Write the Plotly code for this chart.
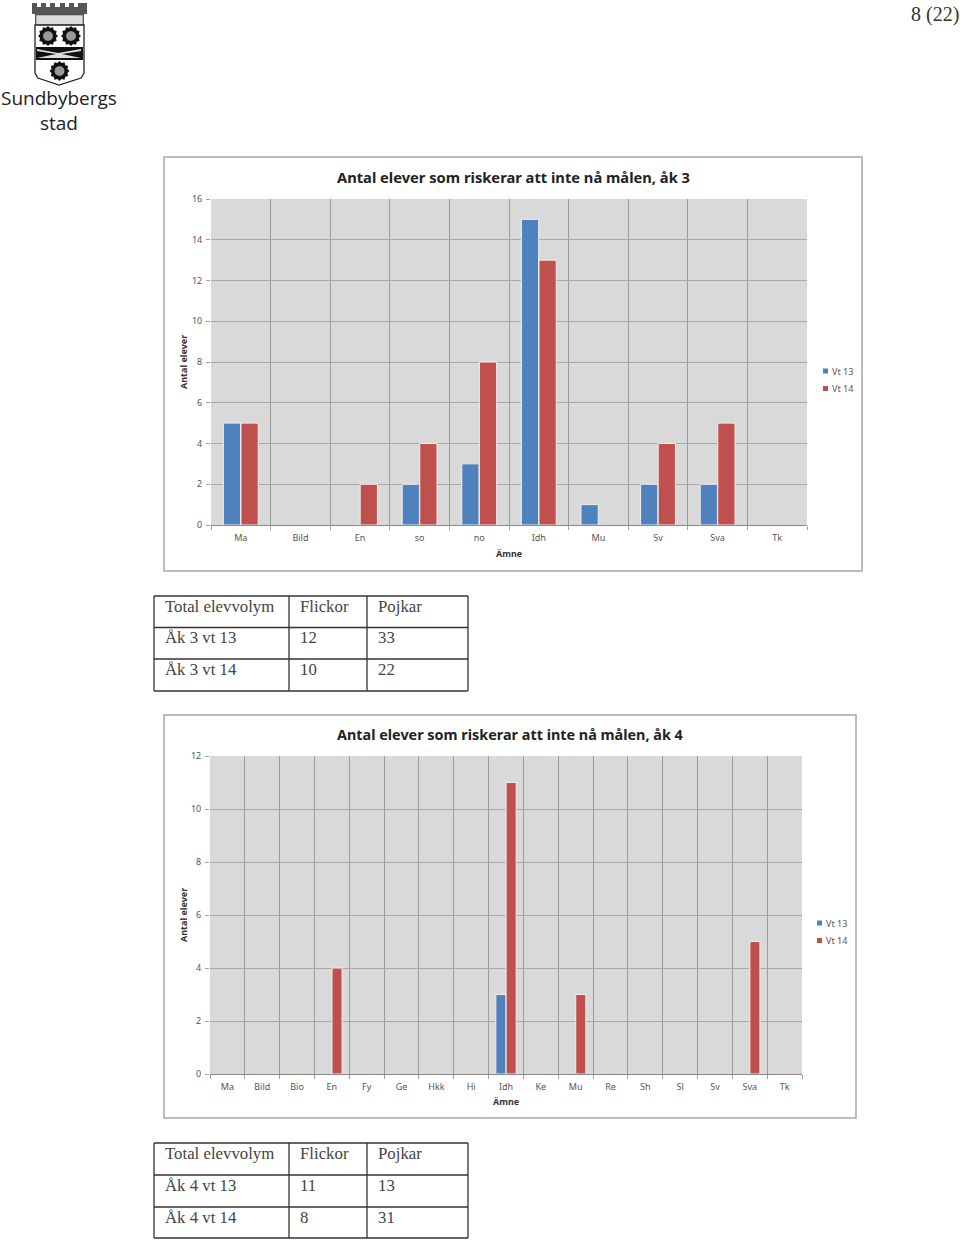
import math
import plotly.graph_objects as go

W, H = 960, 1240
cats_3 = ["Ma", "Bild", "En", "so", "no", "Idh", "Mu", "Sv", "Sva", "Tk"]
vt13_3 = [5, None, None, 2, 3, 15, 1, 2, 2, None]
vt14_3 = [5, None, 2, 4, 8, 13, None, 4, 5, None]
cats_4 = ["Ma", "Bild", "Bio", "En", "Fy", "Ge", "Hkk", "Hi", "Idh", "Ke", "Mu", "Re", "Sh", "Sl", "Sv", "Sva", "Tk"]
vt13_4 = [None, None, None, None, None, None, None, None, 3, None, None, None, None, None, None, None, None]
vt14_4 = [None, None, None, 4, None, None, None, None, 11, None, 3, None, None, None, None, 5, None]
title_3 = "Antal elever som riskerar att inte nå målen, åk 3"
title_4 = "Antal elever som riskerar att inte nå målen, åk 4"
table_3 = [["Total elevvolym", "Flickor", "Pojkar"], ["Åk 3 vt 13", "12", "33"], ["Åk 3 vt 14", "10", "22"]]
table_4 = [["Total elevvolym", "Flickor", "Pojkar"], ["Åk 4 vt 13", "11", "13"], ["Åk 4 vt 14", "8", "31"]]

BLUE, RED = "#4f81bd", "#c0504d"
SANS = "Noto Sans"
SERIF = "Liberation Serif"
TICK = "#555555"


def fx(x):
    return x / W


def fy(y):
    return 1 - y / H


fig = go.Figure()
shapes, notes = [], []


def rect(x0, y0, x1, y1, line=None, width=1, fill=None, layer="above"):
    shapes.append(dict(type="rect", xref="paper", yref="paper", x0=fx(x0), x1=fx(x1), y0=fy(y0), y1=fy(y1),
                       line=dict(color=line or "rgba(0,0,0,0)", width=width if line else 0),
                       fillcolor=fill or "rgba(0,0,0,0)", layer=layer))


def text(x, y, s, size, color="#333333", family=SERIF, anchor="left", bold=False, angle=0):
    notes.append(dict(xref="paper", yref="paper", x=fx(x), y=fy(y), text=f"<b>{s}</b>" if bold else s,
                      showarrow=False, xanchor=anchor, yanchor="middle", textangle=angle,
                      font=dict(size=size, color=color, family=family)))


def path(points, fill=None, line=None, width=1):
    d = "M" + " L".join(f"{fx(a):.5f},{fy(b):.5f}" for a, b in points) + " Z"
    shapes.append(dict(type="path", xref="paper", yref="paper", path=d,
                       fillcolor=fill or "rgba(0,0,0,0)",
                       line=dict(color=line or "rgba(0,0,0,0)", width=width if line else 0)))


def chart(n, cats, a, b, box, plot, title, title_xy, title_size, ymax, leg_xy, ylabel_x, xlabel_xy):
    xa, ya = f"x{n}", f"y{n}"
    rect(*box, line="#a6a6a6", width=1.5, fill="white", layer="below")
    for name, vals, col in (("Vt 13", a, BLUE), ("Vt 14", b, RED)):
        fig.add_trace(go.Bar(x=cats, y=vals, name=name, marker=dict(color=col, line=dict(color="#eeeeee", width=1)),
                             xaxis=xa, yaxis=ya, showlegend=False))
    x0, y0, x1, y1 = plot
    axis_x = dict(domain=[fx(x0), fx(x1)], anchor=ya, type="category", categoryorder="array", categoryarray=cats,
                  tickson="boundaries", showgrid=True, gridcolor="#9c9c9c", gridwidth=1, ticks="outside", ticklen=4,
                  tickcolor="#a0a0a0", showline=True, linecolor="#8a8a8a", linewidth=1, ticklabelstandoff=4,
                  tickfont=dict(size=9, color=TICK, family=SANS))
    axis_y = dict(domain=[fy(y1), fy(y0)], anchor=xa, range=[0, ymax], dtick=2, showgrid=True, gridcolor="#a8a8a8",
                  gridwidth=1, ticks="outside", ticklen=4, tickcolor="#a0a0a0", showline=False, zeroline=False,
                  ticklabelstandoff=2, tickfont=dict(size=9, color=TICK, family=SANS))
    fig.layout[f"xaxis{n}"] = axis_x
    fig.layout[f"yaxis{n}"] = axis_y
    rect(x0, y0, x1, y1, fill="#d9d9d9", layer="below")
    text(title_xy[0], title_xy[1], title, title_size, "#222222", SANS, "center", True)
    text(ylabel_x, (y0 + y1) / 2, "Antal elever", 9, "#333333", SANS, "center", True, -90)
    text(xlabel_xy[0], xlabel_xy[1], "Ämne", 9, "#333333", SANS, "center", True)
    for i, (name, col) in enumerate((("Vt 13", BLUE), ("Vt 14", RED))):
        yy = leg_xy[1] + i * 17.5
        rect(leg_xy[0], yy - 2.5, leg_xy[0] + 5, yy + 2.5, fill=col)
        text(leg_xy[0] + 7, yy, name, 9, TICK, SANS)


def table(rows, tops):
    xs = [154, 289, 367, 468]
    for y in tops:
        shapes.append(dict(type="line", xref="paper", yref="paper", x0=fx(xs[0]), x1=fx(xs[-1]), y0=fy(y), y1=fy(y),
                           line=dict(color="#333333", width=1.3)))
    for x in xs:
        shapes.append(dict(type="line", xref="paper", yref="paper", x0=fx(x), x1=fx(x), y0=fy(tops[0]), y1=fy(tops[-1]),
                           line=dict(color="#333333", width=1.3)))
    for r, row in enumerate(rows):
        for c, val in enumerate(row):
            text(xs[c] + 8.5, tops[r] + 10, val, 16.8, "#444444", SERIF)


chart("", cats_3, vt13_3, vt14_3, (164, 157, 862, 571), (211, 199, 807, 525), title_3, (513, 177), 14.7, 16,
      (823, 371), 183, (509, 553))
chart("2", cats_4, vt13_4, vt14_4, (164, 715, 856, 1118), (210, 756, 802, 1074), title_4, (510, 734), 14.4, 12,
      (817, 923), 183, (506, 1101))
table(table_3, [596, 627.5, 659, 691])
table(table_4, [1143, 1175, 1207, 1238])
text(961, 15, "8 (22)", 20, "#333333", SERIF, "right")

# Municipal crest
path([(32, 14), (32, 3), (37, 3), (37, 7), (41, 7), (41, 3), (46, 3), (46, 7), (50, 7), (50, 3), (55, 3), (55, 7),
      (60, 7), (60, 3), (65, 3), (65, 7), (69, 7), (69, 3), (74, 3), (74, 7), (78, 7), (78, 3), (87, 3), (87, 14),
      (84, 14), (84, 25), (35, 25), (35, 14)], fill="#555555")
rect(36, 15, 83, 25, fill="#dddddd", line="#555555", width=0.6)
path([(35, 25), (84, 25), (84, 73), (81, 78), (59, 85), (38, 78), (35, 73)], fill="white", line="#222222", width=1.3)
rect(36, 47, 83, 60, fill="#111111")
path([(37, 49), (58, 53), (81, 49), (81, 51), (62, 54), (81, 58), (37, 58), (56, 54), (37, 51)], fill="#dddddd")


def gear(cx, cy, r):
    pts = []
    for i in range(24):
        rad = r if i % 2 == 0 else r * 0.82
        ang = 2 * math.pi * i / 24
        pts.append((cx + rad * math.cos(ang), cy + rad * math.sin(ang)))
    path(pts, fill="#111111")
    path([(cx + r * 0.5 * math.cos(2 * math.pi * i / 12), cy + r * 0.5 * math.sin(2 * math.pi * i / 12))
          for i in range(12)], fill="#999999")


gear(48, 36, 10)
gear(71, 36, 10)
gear(59.5, 71, 10)
text(59, 110.5, "Sundbybergs<br>stad", 19, "#222222", "Open Sans", "center")

fig.update_layout(width=W, height=H, margin=dict(l=0, r=0, t=0, b=0, autoexpand=False), paper_bgcolor="white",
                  plot_bgcolor="rgba(0,0,0,0)", barmode="group", bargap=0.41, bargroupgap=0.02, showlegend=False,
                  shapes=shapes, annotations=notes)
fig.write_html("out.html", config={"displayModeBar": False}, post_script="document.body.style.margin='0';")
